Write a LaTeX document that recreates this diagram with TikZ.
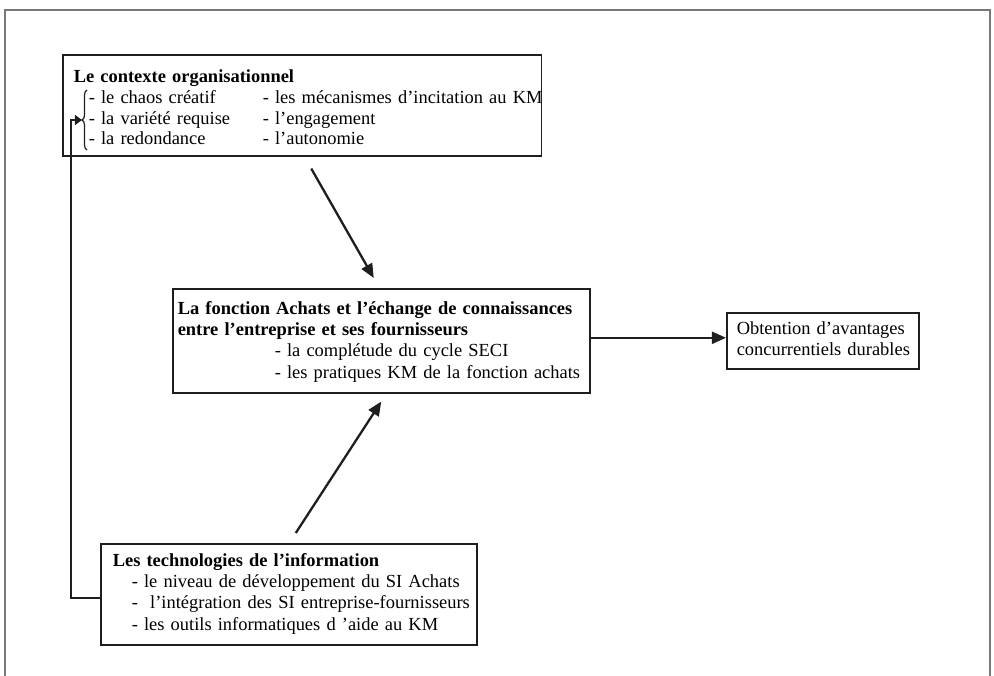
\documentclass[tikz,border=0pt]{standalone}
\usepackage{fontspec}
\setmainfont{Liberation Serif}
\usetikzlibrary{arrows.meta, positioning, calc, decorations.pathreplacing}
\definecolor{inkc}{RGB}{30,30,30}
\definecolor{framec}{RGB}{120,120,120}
\tikzset{
  box/.style={
    rectangle, draw=inkc, line width=0.9pt, anchor=north west,
    align=left, inner ysep=0pt, text=black,
    font=\fontsize{10.5}{12}\selectfont
  },
  arr/.style={-{Triangle[length=8pt, width=6.8pt]}, line width=1.3pt, draw=inkc},
  sarr/.style={-{Triangle[length=4pt, width=5.6pt]}, line width=1.2pt, draw=inkc},
  bracec/.style={decorate, decoration={brace, amplitude=1mm}, line width=0.7pt, draw=inkc},
  frame/.style={draw=framec, line width=0.6pt},
}
\newcommand{\itm}[1]{\makebox[3.48cm][l]{#1}}

\begin{document}
\begin{tikzpicture}[x=0.02cm, y=-0.02cm]
  \useasboundingbox (0,0) rectangle (994,676);
  \draw[frame] (5,676) -- (5,10) -- (990,10) -- (990,676);

  % boxes
  \node[box, inner xsep=0.22cm, text width=9.14cm, text height=5.6mm, text depth=14.6mm,
        font=\fontsize{10.5}{11.8}\selectfont] (ctx) at (62,54)
    {\begin{tabular}[t]{@{}l@{}}
     \textbf{Le contexte organisationnel}\\
     \hspace*{0.3cm}\itm{- le chaos créatif}- les mécanismes d’incitation au KM\\
     \hspace*{0.3cm}\itm{- la variété requise}- l’engagement\\
     \hspace*{0.3cm}\itm{- la redondance}- l’autonomie
     \end{tabular}};

  \node[box, inner xsep=0.1cm, text width=8.14cm, text height=5.2mm, text depth=15.6mm] (achats) at (172,288)
    {\begin{tabular}[t]{@{}l@{}}
     \textbf{La fonction Achats et l’échange de connaissances}\\
     \textbf{entre l’entreprise et ses fournisseurs}\\
     \hspace*{1.94cm}- la complétude du cycle SECI\\
     \hspace*{1.94cm}- les pratiques KM de la fonction achats
     \end{tabular}};

  \node[box, inner xsep=0.2cm, text width=3.44cm, text height=4.4mm, text depth=6.8mm] (result) at (726,312)
    {\begin{tabular}[t]{@{}l@{}}
     Obtention d’avantages\\concurrentiels durables
     \end{tabular}};

  \node[box, inner xsep=0.24cm, text width=7.04cm, text height=4.6mm, text depth=15.6mm] (tech) at (100,543)
    {\begin{tabular}[t]{@{}l@{}}
     \textbf{Les technologies de l’information}\\
     \hspace*{0.38cm}- le niveau de développement du SI Achats\\
     \hspace*{0.38cm}-\ \ l’intégration des SI entreprise-fournisseurs\\
     \hspace*{0.38cm}- les outils informatiques d ’aide au KM
     \end{tabular}};

  % brace in front of the first column
  \draw[bracec] (87,150) -- (87,90);
  \coordinate (bracetip) at (82,120);
  \coordinate (fbk) at (71,120);

  % connectors
  \draw[arr] ($(ctx.south)+(9,12)$) -- ($(achats.north)+(-7.5,-10)$);
  \draw[arr] ($(tech.north)+(7,-10)$) -- ($(achats.south)+(0,8)$);
  \draw[arr] ($(achats.east |- result.west)+(0,-3)$) -- ($(result.west)+(0,-3)$);
  \draw[sarr] ($(tech.west)+(0,3.5)$) -| (fbk) -- (bracetip);

\end{tikzpicture}
\end{document}
